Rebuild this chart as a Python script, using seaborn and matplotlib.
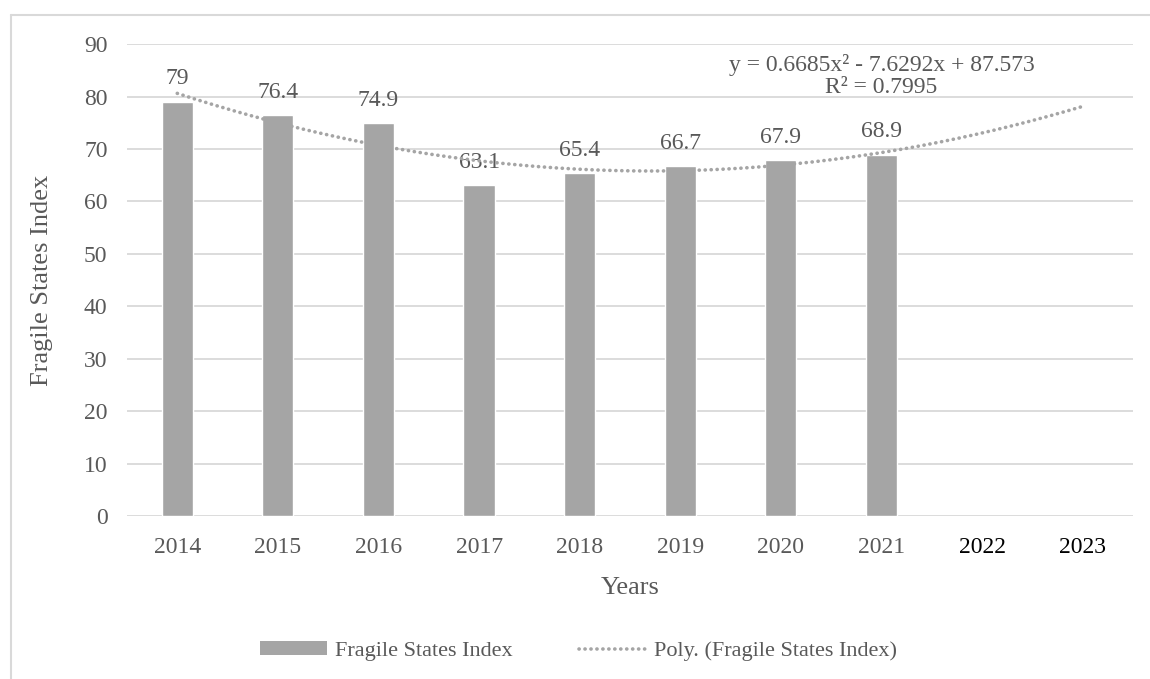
import numpy as np
import pandas as pd
import matplotlib
matplotlib.use("Agg")
import matplotlib.pyplot as plt
from matplotlib.lines import Line2D
from matplotlib.patches import Patch
import seaborn as sns

years = ["2014", "2015", "2016", "2017", "2018", "2019", "2020", "2021", "2022", "2023"]
data_years = ["2014", "2015", "2016", "2017", "2018", "2019", "2020", "2021"]
fsi_values = [79, 76.4, 74.9, 63.1, 65.4, 66.7, 67.9, 68.9]
equation_text = "y = 0.6685x² - 7.6292x + 87.573"
r2_text = "R² = 0.7995"

sns.set_theme(style="white")
plt.rcParams["font.family"] = ["Liberation Serif", "DejaVu Serif"]

TXT = "#595959"
BAR = "#A5A5A5"
GRID = "#D9D9D9"

fig = plt.figure(figsize=(11.5, 6.79), dpi=100)
ax = fig.add_axes([0.1104, 0.240, 0.8748, 0.695])

df = pd.DataFrame({"Year": data_years, "FSI": fsi_values})
sns.barplot(data=df, x="Year", y="FSI", order=years, color=BAR, saturation=1,
            width=0.31, ax=ax, zorder=3)

# polynomial trendline (order 2), forecast forward to 2023
xi = np.arange(1, len(fsi_values) + 1)
coef = np.polyfit(xi, fsi_values, 2)
xf = np.linspace(1, len(years), 300)
ax.plot(xf - 1, np.polyval(coef, xf), color=BAR, lw=2.6,
        linestyle=(0, (0.05, 1.6)), dash_capstyle="round", zorder=4)

for c in ax.containers:
    ax.bar_label(c, fmt="%g", padding=9, fontsize=17, color=TXT)

ax.set_ylim(0, 90)
ax.set_xlim(-0.5, len(years) - 0.5)
ax.set_yticks(range(0, 91, 10))
ax.yaxis.grid(True, color=GRID, lw=1.3, zorder=0)
ax.set_axisbelow(True)
for s in ax.spines.values():
    s.set_visible(False)
ax.tick_params(axis="both", length=0, labelsize=17, colors=TXT)
ax.tick_params(axis="y", pad=14)
ax.tick_params(axis="x", pad=15)
for lab in ax.get_xticklabels():
    if lab.get_text() in ("2022", "2023"):
        lab.set_color("black")

ax.set_xlabel("Years", fontsize=19, color=TXT, labelpad=14)
ax.set_ylabel("Fragile States Index", fontsize=19, color=TXT, labelpad=22)

ax.text(7.0, 86.0, equation_text, ha="center", va="center", fontsize=17, color=TXT)
ax.text(7.0, 81.8, r2_text, ha="center", va="center", fontsize=17, color=TXT)

handles = [Patch(facecolor=BAR, edgecolor="none"),
           Line2D([0], [0], color=BAR, lw=2.6, linestyle=(0, (0.05, 1.6)),
                  dash_capstyle="round")]
fig.legend(handles, ["Fragile States Index", "Poly. (Fragile States Index)"],
           loc="center", bbox_to_anchor=(0.503, 0.041), ncol=2, frameon=False,
           fontsize=16, labelcolor=TXT, handlelength=3.0, handleheight=0.55,
           columnspacing=3.0, handletextpad=0.35)

# outer chart border (top and left visible)
fig.add_artist(Line2D([11 / 1150, 1], [1 - 15 / 679, 1 - 15 / 679],
                      transform=fig.transFigure, color=GRID, lw=1.5))
fig.add_artist(Line2D([11 / 1150, 11 / 1150], [0, 1 - 15 / 679],
                      transform=fig.transFigure, color=GRID, lw=1.5))

fig.savefig("out.png", dpi=100, facecolor="white")
